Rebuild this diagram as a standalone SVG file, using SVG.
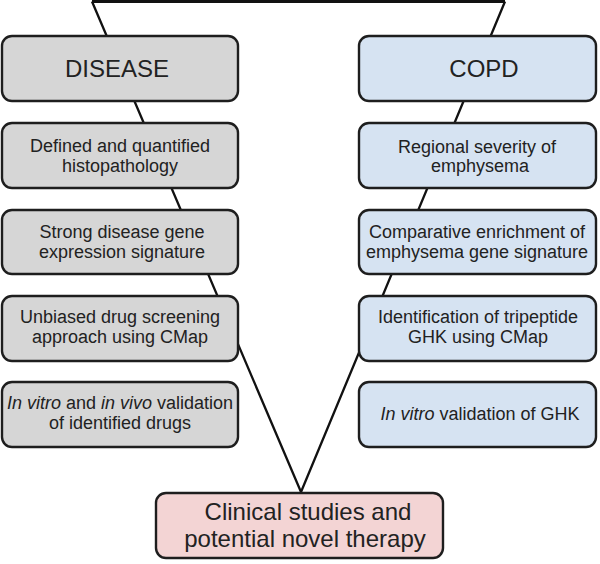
<svg xmlns="http://www.w3.org/2000/svg" width="600" height="564" viewBox="0 0 600 564">
<style>
.box{stroke:#1e1e1e;stroke-width:2.4}
.g{fill:#d6d6d6}
.b{fill:#d6e3f2}
.p{fill:#f3d4d4}
text{font-family:"Liberation Sans",Arial,sans-serif;fill:#222;text-anchor:middle}
.t{font-size:18px}
.h{font-size:24px}
.i{font-style:italic}
.conn{fill:none;stroke:#111;stroke-width:2.3;stroke-linejoin:miter}
.top{stroke-width:3}
</style>
<rect width="600" height="564" fill="#fff"/>
<g id="connectors">
<path class="conn top" d="M92,1.5 L505,1.5"/>
<path class="conn" d="M92,1.5 L301,492 M505,1.5 L301,492"/>
</g>
<g id="disease">
<rect class="box g" x="2" y="36" width="236" height="65" rx="10"/>
<text class="h" x="117" y="77">DISEASE</text>
</g>
<g id="histopathology">
<rect class="box g" x="2" y="123" width="236" height="65" rx="10"/>
<text class="t" x="120" y="152">Defined and quantified</text>
<text class="t" x="120" y="172">histopathology</text>
</g>
<g id="signature">
<rect class="box g" x="2" y="210" width="236" height="64" rx="10"/>
<text class="t" x="122" y="238">Strong disease gene</text>
<text class="t" x="122" y="258">expression signature</text>
</g>
<g id="screening">
<rect class="box g" x="2" y="296" width="236" height="65" rx="10"/>
<text class="t" x="120" y="323">Unbiased drug screening</text>
<text class="t" x="120" y="343">approach using CMap</text>
</g>
<g id="validation">
<rect class="box g" x="2" y="382" width="236" height="65" rx="10"/>
<text class="t" x="120" y="409"><tspan class="i">In vitro</tspan> and <tspan class="i">in vivo</tspan> validation</text>
<text class="t" x="120" y="429">of identified drugs</text>
</g>
<g id="copd">
<rect class="box b" x="359" y="36" width="237" height="65" rx="10"/>
<text class="h" x="484" y="77">COPD</text>
</g>
<g id="regional">
<rect class="box b" x="359" y="123" width="237" height="65" rx="10"/>
<text class="t" x="477" y="153">Regional severity of</text>
<text class="t" x="480" y="172">emphysema</text>
</g>
<g id="enrichment">
<rect class="box b" x="359" y="210" width="237" height="64" rx="10"/>
<text class="t" x="477" y="238">Comparative enrichment of</text>
<text class="t" x="477" y="258">emphysema gene signature</text>
</g>
<g id="ghk">
<rect class="box b" x="359" y="296" width="237" height="65" rx="10"/>
<text class="t" x="478" y="323">Identification of tripeptide</text>
<text class="t" x="478" y="343">GHK using CMap</text>
</g>
<g id="invitro">
<rect class="box b" x="359" y="382" width="237" height="65" rx="10"/>
<text class="t" x="480" y="420"><tspan class="i">In vitro</tspan> validation of GHK</text>
</g>
<g id="clinical">
<rect class="box p" x="156" y="493" width="287" height="65" rx="10"/>
<text class="h" x="308" y="520">Clinical studies and</text>
<text class="h" x="305" y="547">potential novel therapy</text>
</g>
</svg>
